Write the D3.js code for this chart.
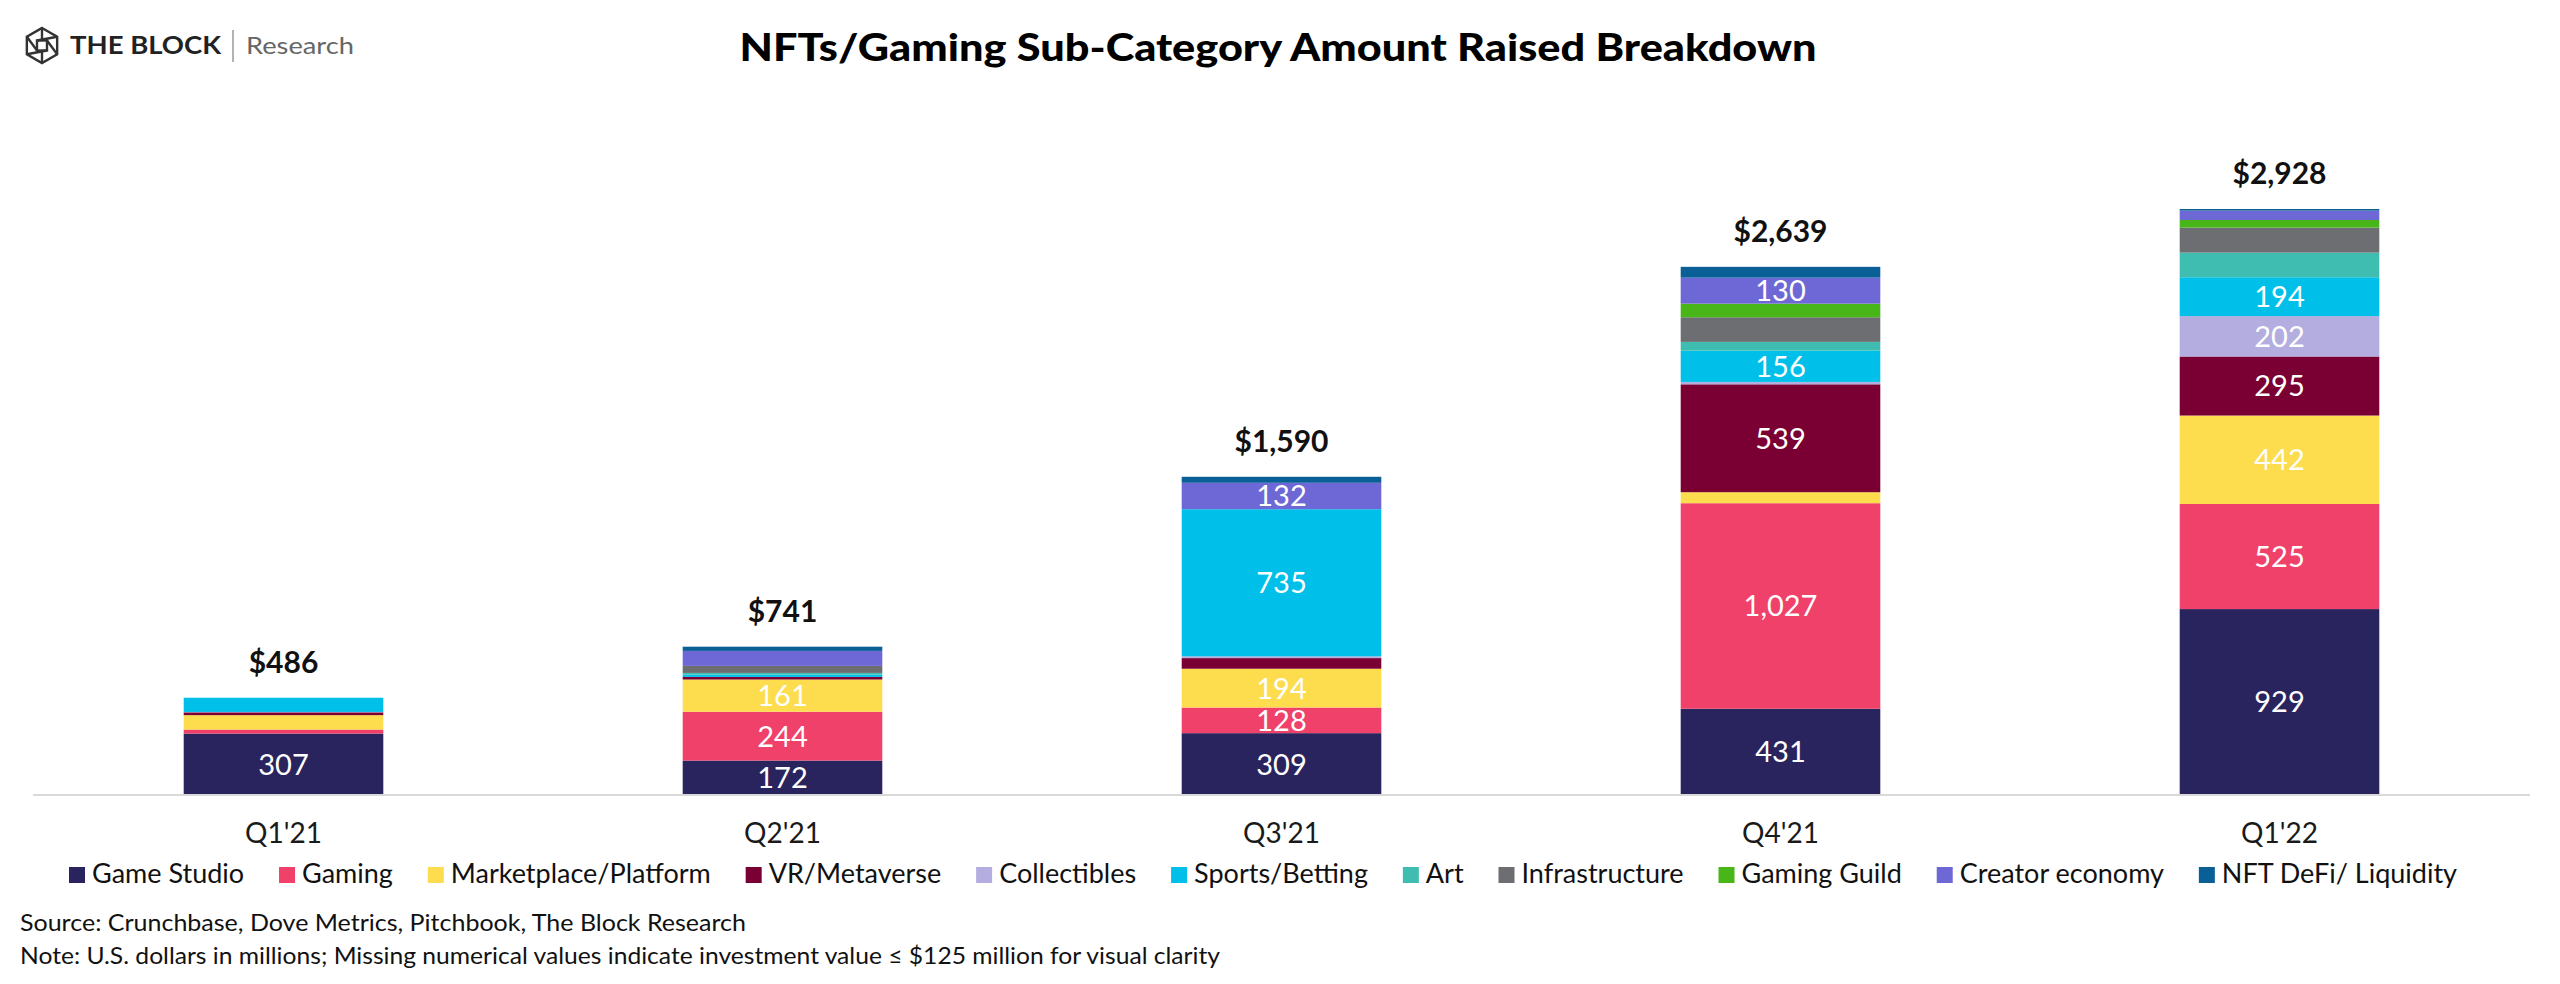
<!DOCTYPE html>
<html>
<head>
<meta charset="utf-8">
<script src="https://cdn.jsdelivr.net/npm/d3@7/dist/d3.min.js"></script>
<style>
  html, body { margin: 0; padding: 0; background: #ffffff; }
  svg { display: block; }
  text { font-family: Lato, "Open Sans", sans-serif; }
</style>
</head>
<body>
<svg id="chart" width="2560" height="984"></svg>
<script>
// ---------------- DATA ----------------
const quarters = ["Q1'21", "Q2'21", "Q3'21", "Q4'21", "Q1'22"];
const seriesNames = ["Game Studio", "Gaming", "Marketplace/Platform", "VR/Metaverse", "Collectibles",
  "Sports/Betting", "Art", "Infrastructure", "Gaming Guild", "Creator economy", "NFT DeFi/ Liquidity"];
const gameStudio   = [307, 172, 309, 431, 929];
const gaming       = [20, 244, 128, 1027, 525];
const marketplace  = [72, 161, 194, 55, 442];
const vrMetaverse  = [14, 13, 53, 539, 295];
const collectibles = [2, 0, 9, 12, 202];
const sportsBetting= [71, 12, 735, 156, 194];
const art          = [0, 8, 0, 44, 123];
const infrastructure=[0, 35, 0, 123, 125];
const gamingGuild  = [0, 0, 0, 68, 38];
const creatorEconomy=[0, 75, 132, 130, 47];
const nftDefi      = [0, 21, 30, 54, 8];
const labelThreshold = 125; // values <= 125 not labelled
const titleText = "NFTs/Gaming Sub-Category Amount Raised Breakdown";
const sourceText = "Source: Crunchbase, Dove Metrics, Pitchbook, The Block Research";
const noteText = "Note: U.S. dollars in millions; Missing numerical values indicate investment value \u2264 $125 million for visual clarity";

const colors = ["#2a245e", "#f0416a", "#fddc4e", "#7a0033", "#b4addf", "#00c0ea",
  "#3fbdb1", "#6d6e71", "#48b518", "#6e68d6", "#0a5f97"];

const seriesValues = [gameStudio, gaming, marketplace, vrMetaverse, collectibles, sportsBetting,
  art, infrastructure, gamingGuild, creatorEconomy, nftDefi];

// table for d3.stack
const table = quarters.map((q, i) => {
  const row = { quarter: q };
  seriesNames.forEach((s, k) => { row[s] = seriesValues[k][i]; });
  return row;
});
const totals = table.map(r => d3.sum(seriesNames, s => r[s]));

// ---------------- LAYOUT ----------------
const svg = d3.select("#chart");
const baseY = 795;

const x = d3.scaleBand().domain(quarters).range([34, 2529]).paddingInner(0.6).paddingOuter(0.3);
const y = d3.scaleLinear().domain([0, d3.max(totals)]).range([baseY, 209]);

const stack = d3.stack().keys(seriesNames);
const stacked = stack(table);

// bars
const g = svg.append("g");
g.selectAll("g.series").data(stacked).join("g")
  .attr("fill", (d, i) => colors[i])
  .selectAll("rect").data(d => d).join("rect")
  .attr("x", d => x(d.data.quarter))
  .attr("width", x.bandwidth())
  .attr("y", d => y(d[1]))
  .attr("height", d => Math.max(0, y(d[0]) - y(d[1])));

// segment labels
stacked.forEach((ser) => {
  ser.forEach(d => {
    const v = d[1] - d[0];
    if (v > labelThreshold) {
      svg.append("text")
        .attr("x", x(d.data.quarter) + x.bandwidth() / 2)
        .attr("y", (y(d[0]) + y(d[1])) / 2)
        .attr("dy", "0.36em")
        .attr("text-anchor", "middle")
        .attr("fill", "#ffffff")
        .attr("font-size", 29)
        .text(d3.format(",")(v));
    }
  });
});

// axis line
svg.append("line")
  .attr("x1", 33).attr("x2", 2530)
  .attr("y1", baseY).attr("y2", baseY)
  .attr("stroke", "#d9d9d9").attr("stroke-width", 2);

// x axis labels via d3 axis
const xAxis = svg.append("g")
  .attr("transform", `translate(0,${baseY})`)
  .call(d3.axisBottom(x).tickSize(0).tickPadding(0));
xAxis.select(".domain").remove();
xAxis.selectAll("text")
  .attr("y", 48)
  .attr("dy", 0)
  .attr("font-size", 28)
  .attr("font-family", "Lato, sans-serif")
  .attr("fill", "#1a1a1a");

// totals
svg.selectAll("text.total").data(quarters).join("text")
  .attr("class", "total")
  .attr("x", q => x(q) + x.bandwidth() / 2)
  .attr("y", (q, i) => y(totals[i]) - 25)
  .attr("text-anchor", "middle")
  .attr("font-size", 30)
  .attr("font-weight", 700)
  .attr("fill", "#111")
  .text((q, i) => "$" + d3.format(",")(totals[i]));

// title
svg.append("text")
  .attr("x", 1278).attr("y", 61)
  .attr("text-anchor", "middle")
  .attr("font-size", 37)
  .attr("font-weight", 900)
  .attr("fill", "#000")
  .attr("textLength", 1077)
  .attr("lengthAdjust", "spacingAndGlyphs")
  .text(titleText);

// logo
const logo = svg.append("g").attr("transform", "translate(42,45.5)")
  .attr("fill", "none").attr("stroke", "#333").attr("stroke-width", 2.4);
const R = 17.5;
const hex = d3.range(6).map(k => {
  const a = (-90 + 60 * k) * Math.PI / 180;
  return [R * Math.cos(a), R * Math.sin(a)];
});
logo.append("path").attr("d", "M" + hex.map(p => p.join(",")).join("L") + "Z");
const s = 5;
logo.append("rect").attr("x", -s).attr("y", -s).attr("width", 2 * s).attr("height", 2 * s);
[[1, -s, -s], [2, s, -s], [4, s, s], [5, -s, s]].forEach(([k, ix, iy]) => {
  logo.append("line").attr("x1", hex[k][0]).attr("y1", hex[k][1]).attr("x2", ix).attr("y2", iy);
});
logo.append("line").attr("x1", hex[0][0]).attr("y1", hex[0][1]).attr("x2", 0).attr("y2", -s);
logo.append("line").attr("x1", hex[3][0]).attr("y1", hex[3][1]).attr("x2", 0).attr("y2", s);

svg.append("text").attr("x", 70).attr("y", 54)
  .attr("font-family", "Inter, sans-serif").attr("font-weight", 700).attr("font-size", 24)
  .attr("fill", "#222").attr("textLength", 151).attr("lengthAdjust", "spacingAndGlyphs")
  .text("THE BLOCK");
svg.append("line").attr("x1", 233).attr("x2", 233).attr("y1", 30).attr("y2", 62)
  .attr("stroke", "#999").attr("stroke-width", 1.5);
svg.append("text").attr("x", 246).attr("y", 54)
  .attr("font-family", "Inter, sans-serif").attr("font-weight", 400).attr("font-size", 24)
  .attr("fill", "#666").attr("textLength", 108).attr("lengthAdjust", "spacingAndGlyphs")
  .text("Research");

// legend
const legend = svg.append("g");
const legendStart = 69, legendEnd = 2457, sq = 16, sqPad = 7;
const items = legend.selectAll("g").data(seriesNames).join("g");
items.append("rect").attr("width", sq).attr("height", sq).attr("y", 867)
  .attr("fill", (d, i) => colors[i]);
items.append("text").attr("x", sq + sqPad).attr("y", 883)
  .attr("font-size", 27).attr("fill", "#111").text(d => d);
const widths = [];
items.each(function () { widths.push(sq + sqPad + d3.select(this).select("text").node().getComputedTextLength()); });
const gap = (legendEnd - legendStart - d3.sum(widths)) / (seriesNames.length - 1);
let cx = legendStart;
items.attr("transform", (d, i) => { const t = `translate(${cx},0)`; cx += widths[i] + gap; return t; });

// footnotes
svg.append("text").attr("x", 20).attr("y", 931).attr("font-size", 24).attr("fill", "#111")
  .attr("textLength", 726).attr("lengthAdjust", "spacingAndGlyphs").text(sourceText);
svg.append("text").attr("x", 20).attr("y", 964).attr("font-size", 24).attr("fill", "#111")
  .attr("textLength", 1200).attr("lengthAdjust", "spacingAndGlyphs").text(noteText);
</script>
</body>
</html>
